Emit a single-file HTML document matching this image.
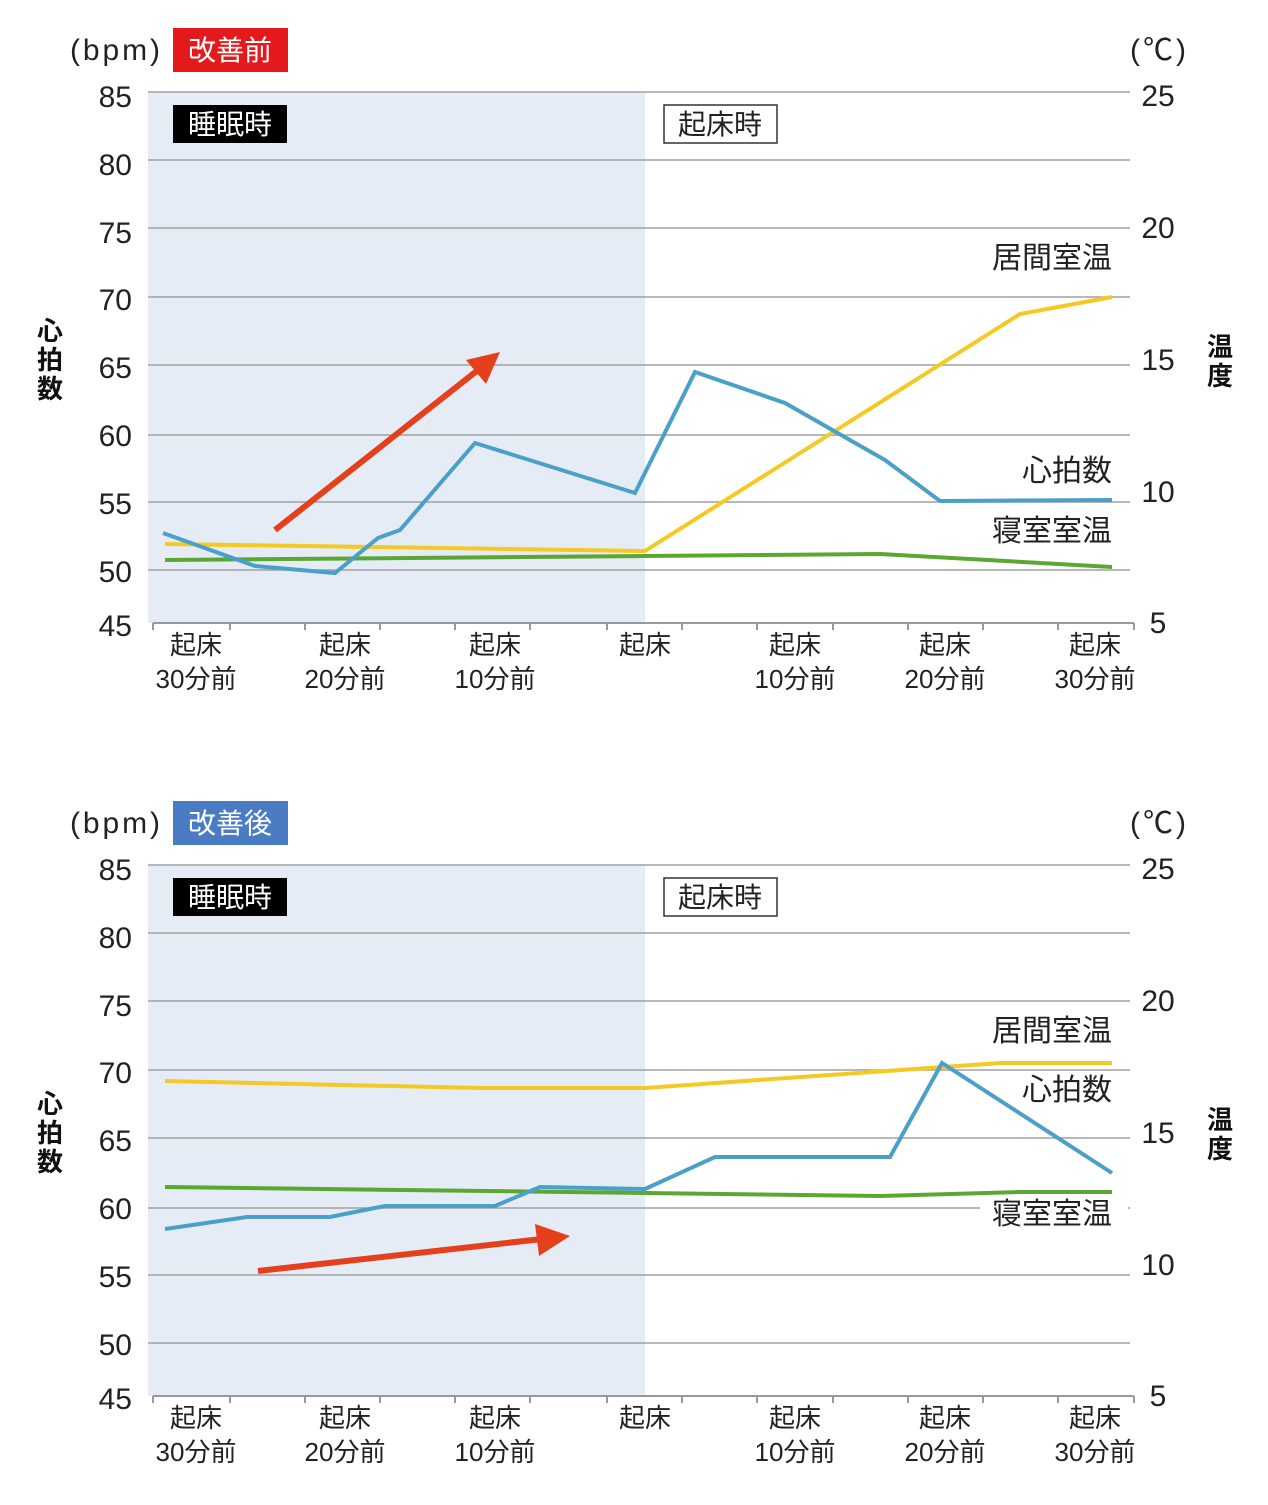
<!DOCTYPE html>
<html><head><meta charset="utf-8"><style>
body{margin:0;background:#fff}
svg text{font-family:"Liberation Sans","Noto Sans CJK JP",sans-serif}
</style></head><body>
<svg width="1268" height="1500" viewBox="0 0 1268 1500" xmlns="http://www.w3.org/2000/svg">
<defs>
<g id="frame">
<rect x="148" y="92" width="497" height="531" fill="#e6ecf6"/>
<g stroke="#a0a0a0" stroke-width="1.5">
<line x1="148" y1="92" x2="1130" y2="92"/>
<line x1="148" y1="160" x2="1130" y2="160"/>
<line x1="148" y1="228" x2="1130" y2="228"/>
<line x1="148" y1="297" x2="1130" y2="297"/>
<line x1="148" y1="365" x2="1130" y2="365"/>
<line x1="148" y1="435" x2="1130" y2="435"/>
<line x1="148" y1="502" x2="1130" y2="502"/>
<line x1="148" y1="570" x2="1130" y2="570"/>
</g>
<g stroke="#999" stroke-width="2">
<line x1="153" y1="623" x2="1134" y2="623"/>
<path d="M153 623v7M230 623v7M305 623v7M380 623v7M455 623v7M530 623v7M607 623v7M682 623v7M757 623v7M833 623v7M908 623v7M983 623v7M1058 623v7M1134 623v7"/>
</g>
<g font-size="30" fill="#222" text-anchor="end">
<text x="132" y="107">85</text><text x="132" y="175">80</text><text x="132" y="243">75</text>
<text x="132" y="310">70</text><text x="132" y="378">65</text><text x="132" y="446">60</text>
<text x="132" y="514">55</text><text x="132" y="582">50</text><text x="132" y="636">45</text>
</g>
<g font-size="30" fill="#222" text-anchor="middle">
<text x="1158" y="106">25</text><text x="1158" y="238">20</text><text x="1158" y="370">15</text>
<text x="1158" y="502">10</text><text x="1158" y="633">5</text>
</g>
<text x="70" y="60" font-size="30" fill="#222" textLength="90">(bpm)</text>
<text x="1130" y="60" font-size="30" fill="#222" textLength="56">(℃)</text>
<g font-size="26" font-weight="bold" fill="#111" text-anchor="middle">
<text x="50" y="340">心</text><text x="50" y="369">拍</text><text x="50" y="398">数</text>
<text x="1220" y="356">温</text><text x="1220" y="385">度</text>
</g>
<g font-size="26" fill="#222" text-anchor="middle">
<text x="196" y="654">起床</text><text x="196" y="688">30分前</text>
<text x="345" y="654">起床</text><text x="345" y="688">20分前</text>
<text x="495" y="654">起床</text><text x="495" y="688">10分前</text>
<text x="645" y="654">起床</text>
<text x="795" y="654">起床</text><text x="795" y="688">10分前</text>
<text x="945" y="654">起床</text><text x="945" y="688">20分前</text>
<text x="1095" y="654">起床</text><text x="1095" y="688">30分前</text>
</g>
<rect x="173" y="105" width="114" height="38" fill="#000"/>
<text x="230" y="134" font-size="28" fill="#fff" text-anchor="middle">睡眠時</text>
<rect x="664" y="105" width="113" height="38" fill="#fff" stroke="#333" stroke-width="1.5"/>
<text x="720" y="134" font-size="28" fill="#222" text-anchor="middle">起床時</text>
</g>
</defs>

<use href="#frame"/>
<rect x="173" y="28" width="115" height="44" fill="#e4191b"/>
<text x="230" y="60" font-size="28" fill="#fff" text-anchor="middle">改善前</text>
<polyline fill="none" stroke="#f5c923" stroke-width="4" points="165,544 645,551 1020,314 1112,297"/>
<polyline fill="none" stroke="#5aa832" stroke-width="4" points="165,560 645,556 880,554 1112,567"/>
<polyline fill="none" stroke="#4aa0c8" stroke-width="4" points="163,533 255,566 335,573 378,538 400,530 475,443 635,493 695,372 785,403 885,460 940,501 1112,500"/>
<line x1="275" y1="530" x2="478" y2="370" stroke="#e5401c" stroke-width="6"/>
<polygon points="500,352 466,360 486,384" fill="#e5401c"/>
<g font-size="30" fill="#222" text-anchor="end">
<text x="1112" y="268">居間室温</text><text x="1112" y="481">心拍数</text><text x="1112" y="541">寝室室温</text>
</g>

<g transform="translate(0,773)"><use href="#frame"/></g>
<rect x="173" y="801" width="115" height="44" fill="#4a7cc4"/>
<text x="230" y="833" font-size="28" fill="#fff" text-anchor="middle">改善後</text>
<polyline fill="none" stroke="#f5c923" stroke-width="4" points="165,1081 480,1088 645,1088 1000,1063 1112,1063"/>
<polyline fill="none" stroke="#5aa832" stroke-width="4" points="165,1187 645,1193 880,1196 1020,1192 1112,1192"/>
<polyline fill="none" stroke="#4aa0c8" stroke-width="4" points="165,1229 247,1217 330,1217 385,1206 495,1206 540,1187 645,1189 715,1157 890,1157 942,1063 1112,1173"/>
<line x1="258" y1="1271" x2="542" y2="1239" stroke="#e5401c" stroke-width="6"/>
<polygon points="570,1236 535,1224 539,1256" fill="#e5401c"/>
<rect x="980" y="1197" width="148" height="40" fill="#fff"/>
<g font-size="30" fill="#222" text-anchor="end">
<text x="1112" y="1041">居間室温</text><text x="1112" y="1100">心拍数</text><text x="1112" y="1224">寝室室温</text>
</g>
</svg>
</body></html>
